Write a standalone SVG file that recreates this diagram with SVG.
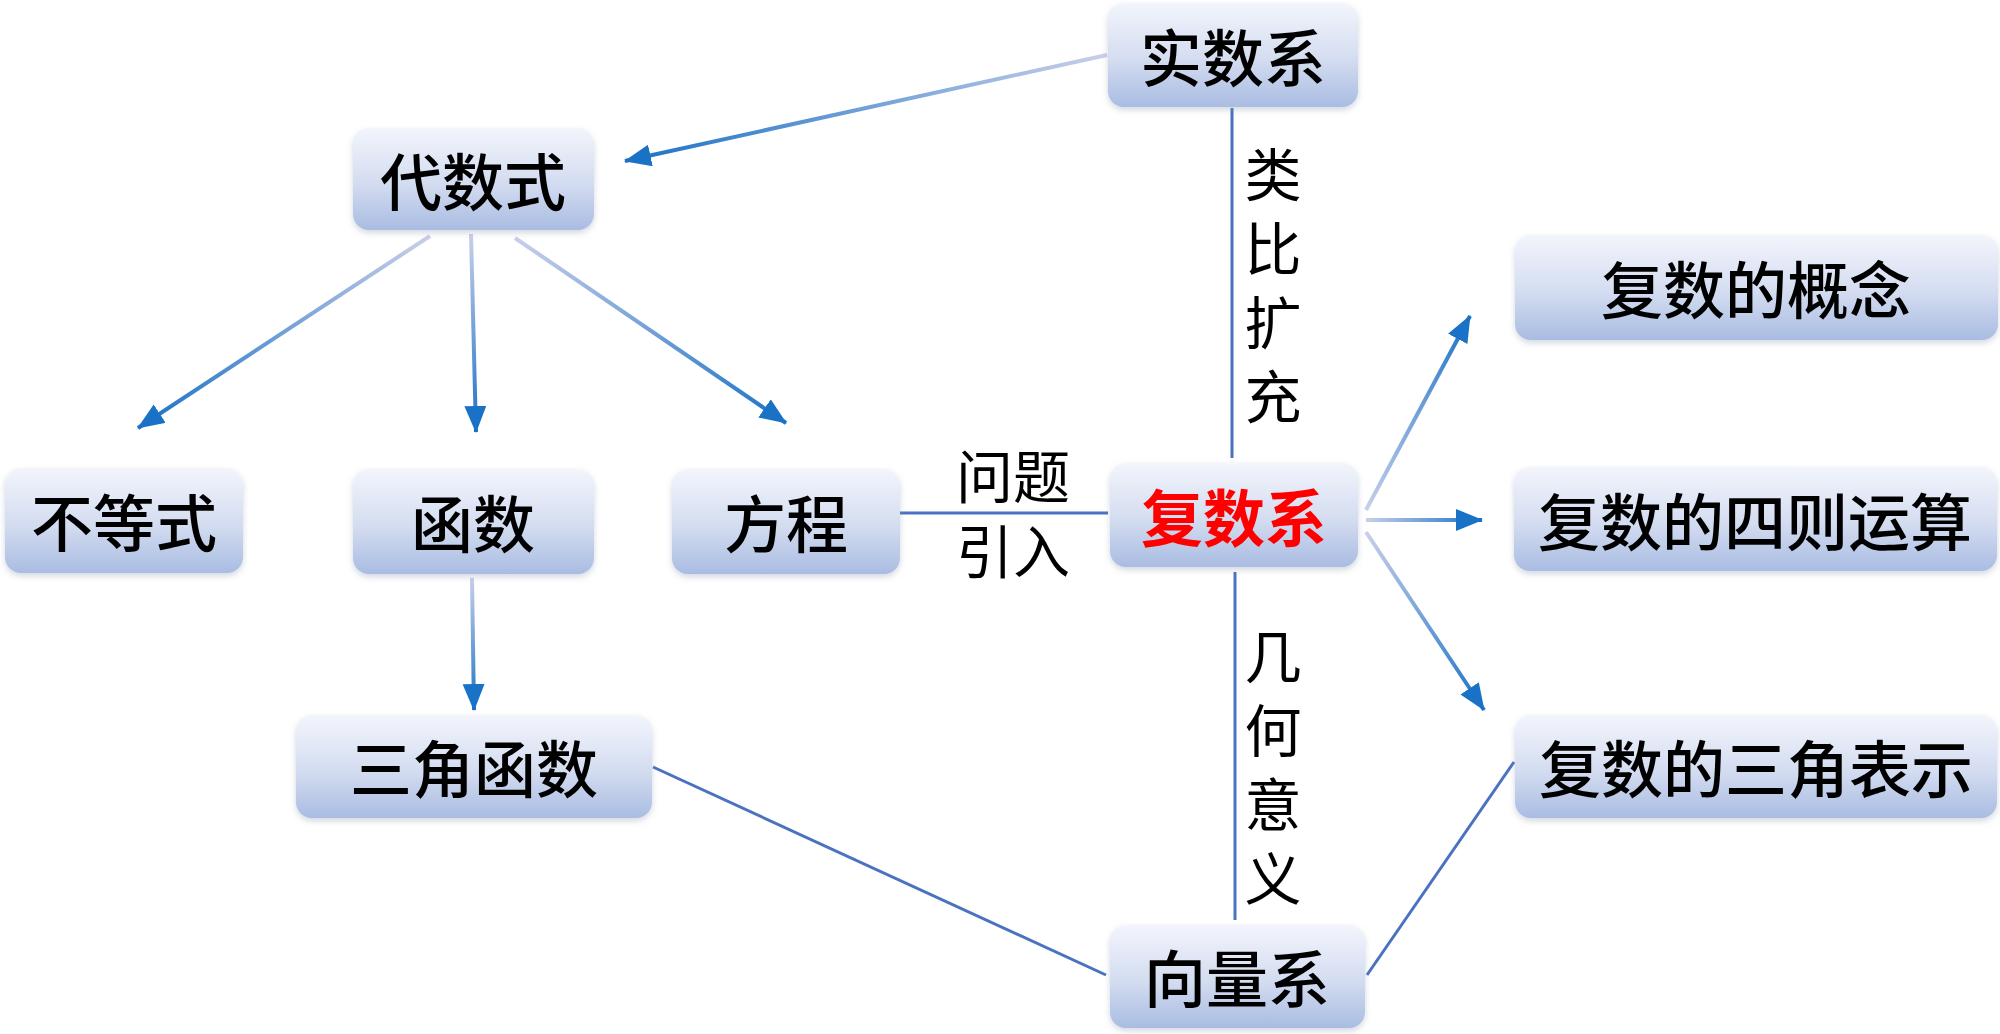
<svg xmlns="http://www.w3.org/2000/svg" width="2000" height="1034" viewBox="0 0 2000 1034">
<style>
.box{fill:url(#boxg);filter:url(#sh)}
.t{font-family:"Noto Sans CJK SC","Noto Sans",sans-serif;font-size:62px;font-weight:500;fill:#000;text-anchor:middle;dominant-baseline:central}
.red{fill:#ff0000;font-weight:700}
.lbl{font-family:"Noto Sans CJK SC","Noto Sans",sans-serif;font-size:57px;font-weight:400;fill:#000;text-anchor:middle;dominant-baseline:central}
.vl{font-family:"Noto Sans CJK SC","Noto Sans",sans-serif;font-size:57px;font-weight:400;fill:#000;writing-mode:vertical-rl;letter-spacing:17px}
.ln{stroke:#4a72c0;stroke-width:3;fill:none}
.ar{stroke-width:4;fill:none;marker-end:url(#ah)}
</style>
<defs>
<linearGradient id="boxg" x1="0" y1="0" x2="0" y2="1">
<stop offset="0" stop-color="#f3f5fc"/>
<stop offset="0.55" stop-color="#d3dcf0"/>
<stop offset="1" stop-color="#a9bce2"/>
</linearGradient>
<filter id="sh" x="-10%" y="-10%" width="120%" height="130%">
<feDropShadow dx="0" dy="3" stdDeviation="3" flood-color="#8090a8" flood-opacity="0.35"/>
</filter>
<marker id="ah" markerUnits="userSpaceOnUse" markerWidth="30" markerHeight="24" refX="26" refY="11" orient="auto">
<path d="M0,0 L27,11 L0,22 z" fill="#1a72c6"/>
</marker>
<linearGradient id="g1" gradientUnits="userSpaceOnUse" x1="1107" y1="55" x2="625" y2="161"><stop offset="0" stop-color="#c9cfe9"/><stop offset="1" stop-color="#1a72c6"/></linearGradient>
<linearGradient id="g2" gradientUnits="userSpaceOnUse" x1="430" y1="236" x2="138" y2="428"><stop offset="0" stop-color="#c9cfe9"/><stop offset="1" stop-color="#1a72c6"/></linearGradient>
<linearGradient id="g3" gradientUnits="userSpaceOnUse" x1="471" y1="234" x2="476" y2="432"><stop offset="0" stop-color="#c9cfe9"/><stop offset="1" stop-color="#1a72c6"/></linearGradient>
<linearGradient id="g4" gradientUnits="userSpaceOnUse" x1="515" y1="238" x2="786" y2="423"><stop offset="0" stop-color="#c9cfe9"/><stop offset="1" stop-color="#1a72c6"/></linearGradient>
<linearGradient id="g5" gradientUnits="userSpaceOnUse" x1="472" y1="578" x2="474" y2="710"><stop offset="0" stop-color="#c9cfe9"/><stop offset="1" stop-color="#1a72c6"/></linearGradient>
<linearGradient id="g9" gradientUnits="userSpaceOnUse" x1="1366" y1="510" x2="1470" y2="316"><stop offset="0" stop-color="#c9cfe9"/><stop offset="1" stop-color="#1a72c6"/></linearGradient>
<linearGradient id="g10" gradientUnits="userSpaceOnUse" x1="1366" y1="520" x2="1482" y2="520"><stop offset="0" stop-color="#c9cfe9"/><stop offset="1" stop-color="#1a72c6"/></linearGradient>
<linearGradient id="g11" gradientUnits="userSpaceOnUse" x1="1366" y1="532" x2="1484" y2="710"><stop offset="0" stop-color="#c9cfe9"/><stop offset="1" stop-color="#1a72c6"/></linearGradient>
</defs>
<rect width="2000" height="1034" fill="#ffffff"/>

<g id="connectors">
<line class="ar" stroke="url(#g1)" x1="1107" y1="55" x2="625" y2="161"/>
<line class="ar" stroke="url(#g2)" x1="430" y1="236" x2="138" y2="428"/>
<line class="ar" stroke="url(#g3)" x1="471" y1="234" x2="476" y2="432"/>
<line class="ar" stroke="url(#g4)" x1="515" y1="238" x2="786" y2="423"/>
<line class="ar" stroke="url(#g5)" x1="472" y1="578" x2="474" y2="710"/>
<line class="ar" stroke="url(#g9)" x1="1366" y1="510" x2="1470" y2="316"/>
<line class="ar" stroke="url(#g10)" x1="1366" y1="520" x2="1482" y2="520"/>
<line class="ar" stroke="url(#g11)" x1="1366" y1="532" x2="1484" y2="710"/>
<line class="ln" x1="900" y1="513" x2="1108" y2="513"/>
<line class="ln" x1="1232" y1="108" x2="1232" y2="458"/>
<line class="ln" x1="1235" y1="572" x2="1235" y2="920"/>
<line class="ln" x1="653" y1="767" x2="1106" y2="975"/>
<line class="ln" x1="1367" y1="975" x2="1514" y2="762"/>
<text class="lbl" x="1013" y="473">问题</text>
<text class="lbl" x="1013" y="548">引入</text>
<text class="vl" x="1273" y="146">类比扩充</text>
<text class="vl" x="1273" y="628">几何意义</text>
</g>

<g id="n-shishu"><rect class="box" x="1108" y="3" width="250" height="104" rx="16"/><text class="t" x="1233" y="55">实数系</text></g>
<g id="n-daishu"><rect class="box" x="353" y="128" width="241" height="102" rx="16"/><text class="t" x="473" y="179">代数式</text></g>
<g id="n-budengshi"><rect class="box" x="5" y="468" width="238" height="105" rx="16"/><text class="t" x="124" y="520">不等式</text></g>
<g id="n-hanshu"><rect class="box" x="353" y="469" width="241" height="105" rx="16"/><text class="t" x="473" y="521">函数</text></g>
<g id="n-fangcheng"><rect class="box" x="672" y="469" width="228" height="105" rx="16"/><text class="t" x="786" y="521">方程</text></g>
<g id="n-fushu"><rect class="box" x="1110" y="463" width="248" height="104" rx="16"/><text class="t red" x="1234" y="515">复数系</text></g>
<g id="n-gainian"><rect class="box" x="1515" y="235" width="483" height="105" rx="16"/><text class="t" x="1756" y="287">复数的概念</text></g>
<g id="n-sizeyunsuan"><rect class="box" x="1514" y="467" width="483" height="104" rx="16"/><text class="t" x="1755" y="519">复数的四则运算</text></g>
<g id="n-sanjiaobiaoshi"><rect class="box" x="1515" y="715" width="482" height="103" rx="16"/><text class="t" x="1756" y="766">复数的三角表示</text></g>
<g id="n-sanjiaohanshu"><rect class="box" x="296" y="715" width="356" height="103" rx="16"/><text class="t" x="474" y="766">三角函数</text></g>
<g id="n-xiangliang"><rect class="box" x="1110" y="925" width="255" height="103" rx="16"/><text class="t" x="1237" y="976">向量系</text></g>
</svg>
